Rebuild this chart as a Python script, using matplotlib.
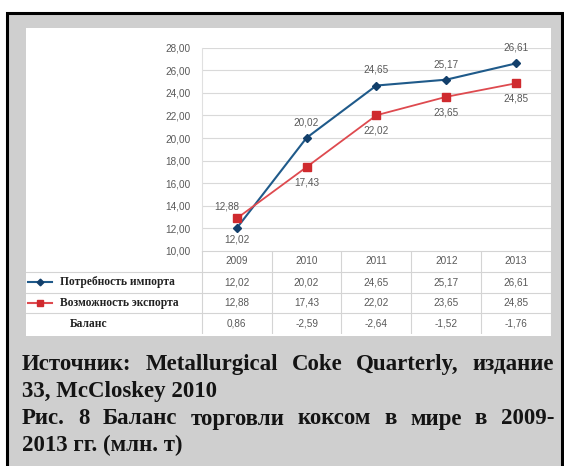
import matplotlib.pyplot as plt
from matplotlib.patches import Rectangle

# chart data
years = ['2009', '2010', '2011', '2012', '2013']
import_need = [12.02, 20.02, 24.65, 25.17, 26.61]
export_cap = [12.88, 17.43, 22.02, 23.65, 24.85]
balance = [0.86, -2.59, -2.64, -1.52, -1.76]
row_names = ['Потребность импорта', 'Возможность экспорта', 'Баланс']
y_ticks = [10, 12, 14, 16, 18, 20, 22, 24, 26, 28]

caption = [
    ('Источник: Metallurgical Coke Quarterly, издание', True),
    ('33, McCloskey 2010', False),
    ('Рис. 8  Баланс торговли коксом в мире в 2009-', True),
    ('2013 гг. (млн. т)', False),
]

W, H = 564, 466
GRAY_TXT = '#595959'
BLUE_LINE, BLUE_MK = '#1f5a8a', '#123f6b'
RED_LINE, RED_MK = '#de4a4f', '#cf2a2e'
FS = 7.2


def fmt(v):
    return f'{v:.2f}'.replace('.', ',')


def fx(px):
    return px / W


def fy(px):
    return 1 - px / H


fig = plt.figure(figsize=(W / 100, H / 100), dpi=100)
fig.patch.set_facecolor('white')

# gray frame with black border (bottom edge is cut off)
fig.patches.append(Rectangle((fx(6.5), fy(480)), fx(555.5), (480 - 13.5) / H,
                             transform=fig.transFigure, facecolor='#cfcfcf',
                             edgecolor='black', linewidth=2.2, zorder=-2))
# white chart panel
fig.patches.append(Rectangle((fx(26), fy(336)), fx(525), (336 - 28) / H,
                             transform=fig.transFigure, facecolor='white',
                             edgecolor='none', zorder=-1))

# line chart
ax = fig.add_axes([fx(201.8), fy(251), fx(551 - 201.8), (251 - 47.7) / H])
ax.set_facecolor('none')
x = list(range(len(years)))
ax.plot(x, import_need, color=BLUE_LINE, lw=1.5, marker='D', ms=3.6,
        mfc=BLUE_MK, mec=BLUE_MK, zorder=3)
ax.plot(x, export_cap, color=RED_LINE, lw=1.3, marker='s', ms=5.2,
        mfc=RED_MK, mec=RED_MK, zorder=3)

lbl = dict(ha='center', va='center', fontsize=FS, color=GRAY_TXT,
           family='Liberation Sans', textcoords='offset points')
for i, v in enumerate(import_need):
    off = -8.3 if i == 0 else 11.2
    ax.annotate(fmt(v), (i, v), xytext=(0, off), **lbl)
for i, v in enumerate(export_cap):
    if i == 0:
        ax.annotate(fmt(v), (i, v), xytext=(-7, 8.6), **lbl)
    else:
        ax.annotate(fmt(v), (i, v), xytext=(0, -11.2), **lbl)

ax.set_xlim(-0.5, len(years) - 0.5)
ax.set_ylim(10, 28)
ax.set_yticks(y_ticks)
ax.set_yticklabels([fmt(t) for t in y_ticks], fontsize=FS, color=GRAY_TXT,
                   family='Liberation Sans')
ax.set_xticks([])
ax.tick_params(axis='y', length=0, pad=8)
ax.grid(axis='y', color='#d9d9d9', lw=0.8)
for s in ['top', 'right', 'bottom']:
    ax.spines[s].set_visible(False)
ax.spines['left'].set_color('#e0e0e0')
ax.spines['left'].set_linewidth(0.8)

# data table under the chart
tx = fig.add_axes([fx(26), fy(334), fx(525), (334 - 251) / H])
tx.set_facecolor('none')
label_w = (201.8 - 26) / ((551 - 201.8) / len(years))
tx.set_xlim(-0.5 - label_w, len(years) - 0.5)
tx.set_ylim(4, 0)
tx.axis('off')
line_c = '#d4d4d4'
tx.plot([-0.5, len(years) - 0.5], [0, 0], color=line_c, lw=0.8)
for r in range(1, 4):
    tx.plot([-0.5 - label_w, len(years) - 0.5], [r, r], color=line_c, lw=0.8)
for c in range(len(years) + 1):
    tx.plot([c - 0.5, c - 0.5], [0, 4], color=line_c, lw=0.8)

cell = dict(ha='center', va='center', fontsize=FS, color=GRAY_TXT,
            family='Liberation Sans')
for i, yr in enumerate(years):
    tx.text(i, 0.5, yr, **cell)
for r, vals in enumerate([import_need, export_cap, balance]):
    for i, v in enumerate(vals):
        tx.text(i, r + 1.5, fmt(v), **cell)

# legend keys inside the table
keys = [(BLUE_LINE, BLUE_MK, 'D', 3.4), (RED_LINE, RED_MK, 's', 5)]
for r, (lc, mc, mk, ms) in enumerate(keys):
    yk = 1 - (r + 1.5) / 4
    tx.plot([0.004, 0.05], [yk, yk], color=lc, lw=1.5, transform=tx.transAxes)
    tx.plot([0.027], [yk], marker=mk, ms=ms, color=mc, transform=tx.transAxes)
name_x = [0.065, 0.065, 0.084]
for r, name in enumerate(row_names):
    tx.text(name_x[r], 1 - (r + 1.5) / 4, name, transform=tx.transAxes,
            ha='left', va='center', fontsize=8.3, fontweight='bold',
            family='Liberation Serif', color='#222222')

# caption, lines 1 and 3 justified
renderer = fig.canvas.get_renderer()
cap_font = dict(fontsize=16.5, fontweight='bold', family='Liberation Serif',
                color='#141414', va='baseline')
baselines = [370, 397.5, 424.5, 451]
left_px, right_px = 22, 554
for (line, justify), b in zip(caption, baselines):
    if not justify:
        fig.text(fx(left_px), fy(b), line, ha='left', **cap_font)
        continue
    words = line.split()
    widths = []
    for w in words:
        t = fig.text(0, 0, w, **cap_font)
        widths.append(t.get_window_extent(renderer).width)
        t.remove()
    gap = (right_px - left_px - sum(widths)) / (len(words) - 1)
    pos = left_px
    for w, wd in zip(words, widths):
        fig.text(fx(pos), fy(b), w, ha='left', **cap_font)
        pos += wd + gap

fig.savefig('out.png', dpi=100, facecolor=fig.get_facecolor())
